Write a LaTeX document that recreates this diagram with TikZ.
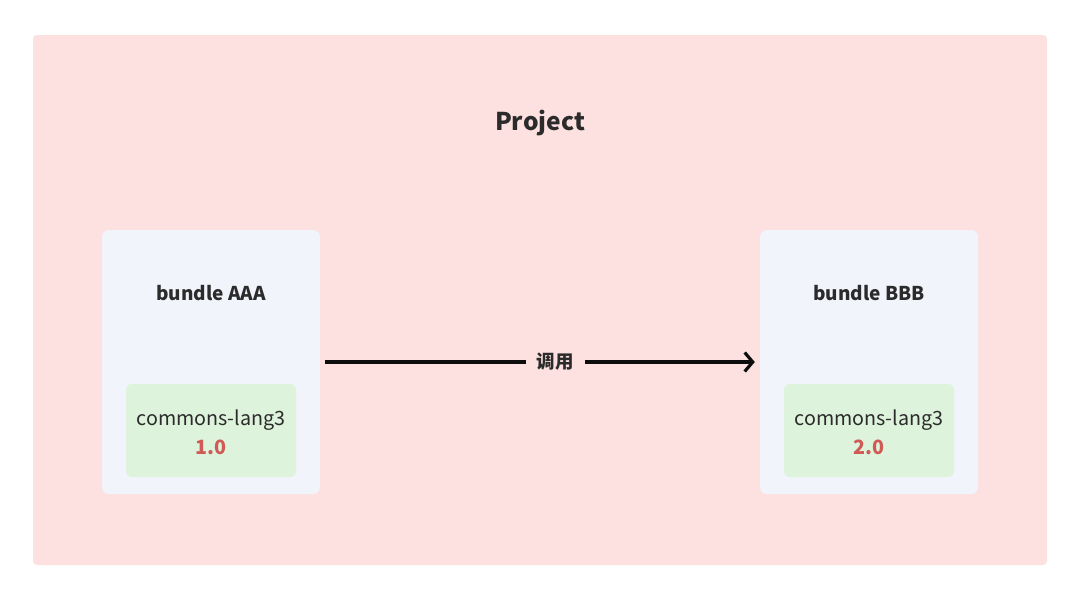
\documentclass[tikz,border=0pt]{standalone}
\usepackage{fontspec}
\setmainfont{Noto Sans CJK SC}
\usetikzlibrary{arrows.meta}
\definecolor{projbg}{HTML}{FDE1E0}
\definecolor{bundlebg}{HTML}{F1F4FB}
\definecolor{libbg}{HTML}{DDF3DB}
\definecolor{vered}{HTML}{D05A55}
\definecolor{txt}{HTML}{2B2B2B}
\tikzset{
  projbox/.style={fill=projbg, rounded corners=4pt},
  bundlebox/.style={fill=bundlebg, rounded corners=7pt},
  libbox/.style={fill=libbg, rounded corners=6pt},
  title/.style={font=\fontsize{24.5}{30}\selectfont\bfseries, text=txt},
  bundletitle/.style={font=\fontsize{19}{24}\selectfont\bfseries, text=txt},
  libname/.style={font=\fontsize{19.7}{29}\selectfont, text=txt, align=center},
  call/.style={draw=black!95, line width=3.2pt, -{Straight Barb[length=8pt,width=19pt,line width=3.2pt]}},
  calllabel/.style={font=\fontsize{18.5}{22}\selectfont\bfseries, text=txt, fill=projbg, inner xsep=11pt}
}
\begin{document}
\begin{tikzpicture}[x=1pt,y=-1pt]
\useasboundingbox[fill=white] (0,0) rectangle (1080,600);
\fill[projbox] (33,35) rectangle (1047,565);
\node[title] (proj) at (540,123) {Project};
% bundle AAA
\path[bundlebox] (102,230) rectangle (320,494);
\node[inner sep=0pt, minimum width=218pt, minimum height=264pt] (ba) at (211,362) {};
\node[bundletitle] (bat) at (211,293) {bundle AAA};
\path[libbox] (126,384) rectangle (296,477);
\node[libname] (la) at (211,432) {commons-lang3\\{\bfseries\color{vered}1.0}};
% bundle BBB
\path[bundlebox] (760,230) rectangle (978,494);
\node[inner sep=0pt, minimum width=218pt, minimum height=264pt] (bb) at (869,362) {};
\node[bundletitle] (bbt) at (869,293) {bundle BBB};
\path[libbox] (784,384) rectangle (954,477);
\node[libname] (lb) at (869,432) {commons-lang3\\{\bfseries\color{vered}2.0}};
% call arrow
\draw[call] ([xshift=5pt]ba.east) -- node[calllabel, pos=0.535] (cl) {调用} ([xshift=-5pt]bb.west);
\end{tikzpicture}
\end{document}
